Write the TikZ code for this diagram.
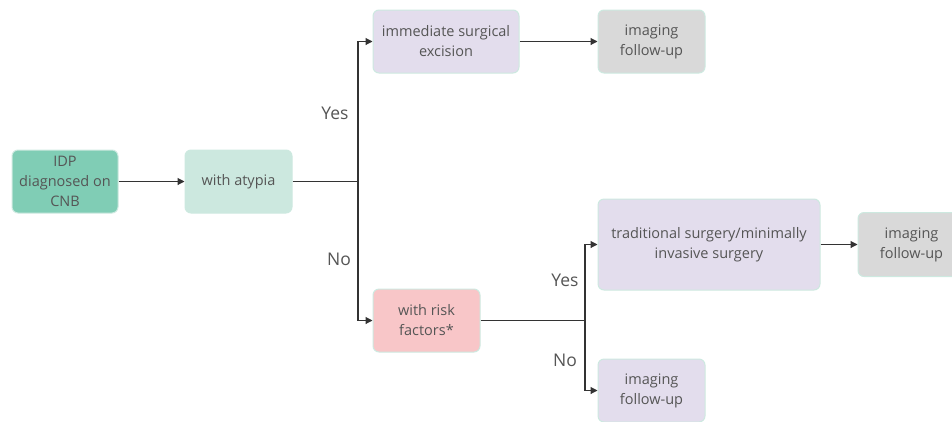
\documentclass[tikz,border=0pt]{standalone}
\usepackage{fontspec}
\setmainfont{Open Sans}
\usetikzlibrary{arrows.meta}
\definecolor{cgreen}{HTML}{80CDB5}
\definecolor{clight}{HTML}{CCE8DF}
\definecolor{clav}{HTML}{E3DDED}
\definecolor{cgrey}{HTML}{D9D9D9}
\definecolor{cpink}{HTML}{F8C6C8}
\definecolor{cborder}{HTML}{CDE9E0}
\definecolor{ctext}{HTML}{555555}
\definecolor{cline}{HTML}{333333}
\tikzset{
  box/.style={draw=cborder, line width=1pt, rounded corners=6pt, align=center,
    text=ctext, font=\fontsize{14.5}{20}\selectfont, inner sep=0pt},
  conn/.style={draw=cline, line width=1.1pt, -{Triangle[length=7pt,width=7pt]}},
  plain/.style={draw=cline, line width=1.1pt},
  lbl/.style={text=ctext, font=\fontsize{17.5}{20}\selectfont, inner sep=0pt}
}
\begin{document}
\begin{tikzpicture}[x=1pt,y=-1pt]
\useasboundingbox (0,0) rectangle (952,421);
\clip (0,0) rectangle (952,421);
\node[box, fill=cgreen, minimum width=106pt, minimum height=63pt] (idp) at (65,181.5) {IDP\\diagnosed on\\CNB};
\node[box, fill=clight, minimum width=107pt, minimum height=63pt] (aty) at (238.5,181.5) {with atypia};
\node[box, fill=clav, minimum width=146pt, minimum height=63pt] (exc) at (446,41.5) {immediate surgical\\excision};
\node[box, fill=cgrey, minimum width=107pt, minimum height=63pt] (img1) at (651.5,41.5) {imaging\\follow-up};
\node[box, fill=cpink, minimum width=107pt, minimum height=63pt] (risk) at (426.5,320.5) {with risk\\factors*};
\node[box, fill=clav, minimum width=222pt, minimum height=91pt] (trad) at (709,244.5) {traditional surgery/minimally\\invasive surgery};
\node[box, fill=cgrey, minimum width=107pt, minimum height=64pt] (img2) at (911.5,244.5) {imaging\\follow-up};
\node[box, fill=clav, minimum width=107pt, minimum height=63pt] (img3) at (651.5,390.5) {imaging\\follow-up};

\coordinate (b1) at (358,181.5);
\coordinate (b2) at (585,320.5);

\draw[conn] (idp) -- (aty);
\draw[plain] (aty) -- (b1);
\draw[conn] (b1) |- (exc.west);
\draw[conn] (b1) |- (risk.west);
\draw[conn] (exc) -- (img1);
\draw[plain] (risk) -- (b2);
\draw[conn] (b2) |- (trad.west);
\draw[conn] (b2) |- (img3.west);
\draw[conn] (trad) -- (img2);

\node[lbl] (yes1) at (335,113) {Yes};
\node[lbl] (no1) at (339,259) {No};
\node[lbl] (yes2) at (565,280) {Yes};
\node[lbl] (no2) at (565,360) {No};
\end{tikzpicture}
\end{document}
